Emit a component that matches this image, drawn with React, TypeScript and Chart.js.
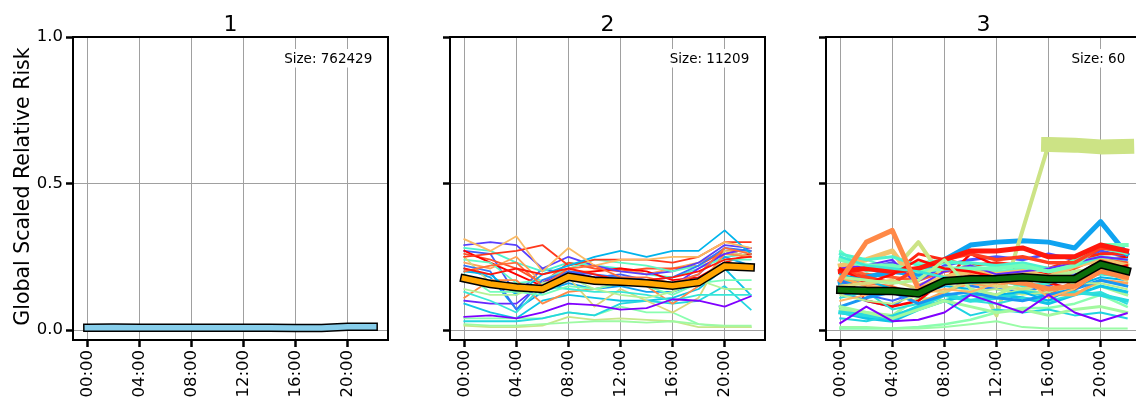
import React, { useEffect, useRef } from "react";
import { Chart, registerables } from "chart.js";

Chart.register(...registerables);

// ---------- data ----------
const HOURS = [0, 2, 4, 6, 8, 10, 12, 14, 16, 18, 20, 22];
const X_TICKS = [0, 4, 8, 12, 16, 20];
const X_TICK_LABELS = ["00:00", "04:00", "08:00", "12:00", "16:00", "20:00"];
const Y_TICKS = [0, 0.5, 1.0];
const Y_TICK_LABELS = ["0.0", "0.5", "1.0"];
const PANEL_TITLES = ["1", "2", "3"];
const PANEL_SIZES = ["Size: 762429", "Size: 11209", "Size: 60"];
const Y_LABEL = "Global Scaled Relative Risk";

const C1_MEAN = [0.008, 0.009, 0.008, 0.008, 0.008, 0.008, 0.008, 0.008, 0.007, 0.007, 0.011, 0.011];
const C2_MEAN = [0.176, 0.157, 0.146, 0.14, 0.182, 0.168, 0.165, 0.16, 0.151, 0.163, 0.218, 0.214];
const C3_MEAN = [0.137, 0.134, 0.133, 0.125, 0.167, 0.173, 0.174, 0.18, 0.174, 0.174, 0.224, 0.202];

const C2_MEMBERS: number[][] = [
  [0.045, 0.05, 0.04, 0.06, 0.09, 0.085, 0.07, 0.075, 0.105, 0.1, 0.08, 0.115],
  [0.29, 0.3, 0.29, 0.21, 0.25, 0.22, 0.2, 0.19, 0.2, 0.23, 0.29, 0.28],
  [0.22, 0.2, 0.07, 0.17, 0.2, 0.19, 0.18, 0.17, 0.18, 0.22, 0.28, 0.27],
  [0.27, 0.26, 0.12, 0.21, 0.19, 0.18, 0.19, 0.17, 0.16, 0.19, 0.27, 0.25],
  [0.21, 0.18, 0.07, 0.13, 0.16, 0.14, 0.15, 0.13, 0.13, 0.16, 0.25, 0.22],
  [0.2, 0.19, 0.12, 0.19, 0.22, 0.25, 0.27, 0.25, 0.27, 0.27, 0.34, 0.26],
  [0.09, 0.06, 0.04, 0.1, 0.12, 0.11, 0.1, 0.1, 0.11, 0.14, 0.21, 0.12],
  [0.03, 0.03, 0.03, 0.04, 0.06, 0.05, 0.09, 0.1, 0.09, 0.1, 0.15, 0.07],
  [0.13, 0.1, 0.06, 0.15, 0.14, 0.13, 0.13, 0.12, 0.1, 0.12, 0.12, 0.12],
  [0.28, 0.27, 0.23, 0.2, 0.23, 0.22, 0.21, 0.19, 0.18, 0.21, 0.25, 0.26],
  [0.24, 0.23, 0.16, 0.17, 0.21, 0.24, 0.23, 0.22, 0.2, 0.22, 0.24, 0.24],
  [0.19, 0.13, 0.13, 0.12, 0.15, 0.14, 0.16, 0.15, 0.12, 0.16, 0.17, 0.17],
  [0.04, 0.04, 0.04, 0.04, 0.06, 0.05, 0.08, 0.06, 0.06, 0.02, 0.01, 0.01],
  [0.02, 0.015, 0.015, 0.02, 0.025, 0.03, 0.03, 0.025, 0.03, 0.02, 0.015, 0.015],
  [0.14, 0.12, 0.12, 0.16, 0.18, 0.14, 0.12, 0.11, 0.13, 0.17, 0.14, 0.14],
  [0.015, 0.01, 0.01, 0.015, 0.045, 0.035, 0.04, 0.035, 0.03, 0.01, 0.01, 0.01],
  [0.25, 0.16, 0.15, 0.13, 0.18, 0.08, 0.14, 0.1, 0.06, 0.11, 0.27, 0.25],
  [0.31, 0.27, 0.32, 0.2, 0.28, 0.22, 0.24, 0.24, 0.25, 0.25, 0.3, 0.28],
  [0.23, 0.21, 0.25, 0.16, 0.2, 0.2, 0.21, 0.19, 0.21, 0.23, 0.27, 0.27],
  [0.11, 0.17, 0.17, 0.09, 0.13, 0.14, 0.16, 0.15, 0.09, 0.15, 0.26, 0.25],
  [0.2, 0.22, 0.23, 0.15, 0.21, 0.22, 0.18, 0.18, 0.16, 0.19, 0.28, 0.26],
  [0.26, 0.24, 0.21, 0.16, 0.23, 0.21, 0.2, 0.21, 0.21, 0.22, 0.27, 0.25],
  [0.25, 0.26, 0.27, 0.29, 0.22, 0.24, 0.24, 0.24, 0.23, 0.25, 0.3, 0.3],
  [0.21, 0.19, 0.21, 0.19, 0.21, 0.19, 0.17, 0.17, 0.18, 0.2, 0.24, 0.25],
  [0.27, 0.23, 0.19, 0.15, 0.19, 0.2, 0.21, 0.2, 0.17, 0.18, 0.23, 0.26],
  [0.1, 0.09, 0.09, 0.16, 0.2, 0.18, 0.17, 0.16, 0.15, 0.21, 0.26, 0.28],
];
const C2_MEMBER_HUES = [
  0.0, 0.08, 0.15, 0.12, 0.22, 0.25, 0.28, 0.32, 0.36, 0.4, 0.44, 0.48, 0.52,
  0.56, 0.6, 0.64, 0.68, 0.74, 0.78, 0.82, 0.86, 0.9, 0.93, 0.97, 1.0, 0.05,
];

const C3_MEMBERS: (number | null)[][] = [
  [0.024, 0.08, 0.03, 0.035, 0.06, 0.12, 0.09, 0.06, 0.12, 0.06, 0.03, 0.057],
  [0.21, 0.22, 0.24, 0.15, 0.2, 0.22, 0.19, 0.2, 0.21, 0.23, 0.25, 0.24],
  [0.2, 0.21, 0.23, 0.17, 0.22, 0.24, 0.25, 0.24, 0.26, 0.24, 0.27, 0.25],
  [0.17, 0.12, 0.1, 0.13, 0.16, 0.17, 0.18, 0.16, 0.15, 0.19, 0.23, 0.21],
  [0.13, 0.1, 0.08, 0.14, 0.17, 0.15, 0.14, 0.13, 0.15, 0.2, 0.21, 0.19],
  [0.08, 0.11, 0.13, 0.09, 0.12, 0.13, 0.11, 0.1, 0.12, 0.14, 0.17, 0.15],
  [0.16, 0.18, 0.2, 0.19, 0.24, 0.29, 0.3, 0.305, 0.3, 0.28, 0.37, 0.26],
  [0.19, 0.17, 0.14, 0.12, 0.15, 0.14, 0.12, 0.13, 0.1, 0.15, 0.18, 0.17],
  [0.06, 0.04, 0.03, 0.07, 0.1, 0.12, 0.12, 0.11, 0.09, 0.12, 0.15, 0.13],
  [0.04, 0.03, 0.05, 0.08, 0.1, 0.05, 0.07, 0.06, 0.07, 0.05, 0.06, 0.04],
  [0.11, 0.13, 0.07, 0.09, 0.13, 0.1, 0.09, 0.11, 0.1, 0.12, 0.13, 0.09],
  [0.25, 0.22, 0.21, 0.2, 0.18, 0.16, 0.17, 0.15, 0.16, 0.18, 0.19, 0.18],
  [0.26, 0.24, 0.25, 0.22, 0.23, 0.23, 0.22, 0.23, 0.21, 0.22, 0.25, 0.24],
  [0.22, 0.24, 0.21, 0.18, 0.21, 0.2, 0.22, 0.21, 0.2, 0.22, 0.26, 0.27],
  [0.24, 0.22, 0.22, 0.2, 0.21, 0.21, 0.21, 0.22, 0.2, 0.22, 0.29, 0.29],
  [0.005, 0.005, 0.005, 0.01, 0.02, 0.035, 0.06, 0.075, 0.075, 0.09, 0.12, 0.08],
  [0.01, 0.01, 0.005, 0.005, 0.01, 0.02, 0.03, 0.01, 0.005, 0.005, 0.005, 0.005],
  [0.07, 0.06, 0.05, 0.11, 0.1, 0.12, 0.11, 0.14, 0.12, 0.16, 0.15, 0.12],
  [0.12, 0.1, 0.09, 0.12, 0.16, 0.13, 0.14, 0.12, 0.13, 0.16, 0.16, 0.14],
  [0.2, 0.22, 0.2, 0.3, 0.17, 0.22, 0.05, 0.34, 0.633, null, null, null],
  [0.15, 0.16, 0.17, 0.14, 0.13, 0.17, 0.15, 0.14, 0.16, 0.2, 0.21, 0.19],
  [0.22, 0.24, 0.27, 0.15, 0.18, 0.2, 0.19, 0.2, 0.18, 0.22, 0.24, 0.22],
  [0.1, 0.12, 0.14, 0.12, 0.14, 0.13, 0.16, 0.18, 0.11, 0.14, 0.2, 0.17],
  [0.18, 0.15, 0.14, 0.09, 0.13, 0.16, 0.15, 0.18, 0.12, 0.12, 0.17, 0.16],
  [0.17, 0.3, 0.34, 0.14, 0.16, 0.18, 0.17, 0.16, 0.14, 0.15, 0.2, 0.18],
  [0.19, 0.16, 0.15, 0.12, 0.16, 0.19, 0.17, 0.18, 0.12, 0.17, 0.24, 0.21],
  [0.21, 0.19, 0.18, 0.17, 0.2, 0.21, 0.2, 0.19, 0.19, 0.21, 0.25, 0.23],
  [0.2, 0.18, 0.16, 0.21, 0.24, 0.26, 0.24, 0.25, 0.23, 0.23, 0.28, 0.27],
  [0.22, 0.21, 0.19, 0.26, 0.24, 0.22, 0.23, 0.22, 0.21, 0.24, 0.26, 0.26],
  [0.2, 0.21, 0.2, 0.21, 0.24, 0.27, 0.27, 0.28, 0.25, 0.25, 0.29, 0.27],
  [0.2, 0.1, 0.08, 0.1, 0.17, 0.26, 0.22, 0.2, 0.19, 0.18, 0.24, 0.25],
  [0.21, 0.16, 0.19, 0.24, 0.21, 0.2, 0.18, 0.18, 0.16, 0.14, 0.2, 0.22],
  [0.27, 0.2, 0.22, 0.23, 0.24, 0.22, 0.2, 0.21, 0.2, 0.24, 0.28, 0.26],
  [0.18, 0.17, 0.16, 0.17, 0.24, 0.14, 0.12, 0.16, 0.18, 0.2, 0.21, 0.17],
  [0.06, 0.05, 0.04, 0.08, 0.12, 0.1, 0.11, 0.13, 0.12, 0.13, 0.12, 0.1],
  [0.08, 0.06, 0.04, 0.07, 0.1, 0.08, 0.06, 0.07, 0.05, 0.07, 0.08, 0.06],
  [null, null, null, null, null, null, null, null, 0.633, 0.631, 0.625, 0.627],
];
const C3_MEMBER_HUES = [
  0.0, 0.05, 0.1, 0.13, 0.17, 0.2, 0.22, 0.25, 0.28, 0.31, 0.34, 0.37, 0.4,
  0.44, 0.48, 0.52, 0.55, 0.58, 0.62, 0.65, 0.68, 0.72, 0.75, 0.78, 0.82,
  0.85, 0.88, 0.92, 0.95, 0.97, 1.0, 0.99, 0.45, 0.6, 0.33, 0.57, 0.65,
];

// ---------- styles ----------
const C3_MEMBER_WIDTHS = [
  2, 2, 3, 2, 2.5, 3, 5, 2, 3, 2, 2, 2.5, 3, 2, 4, 2.5, 2, 3, 2, 4, 3, 5, 2, 3,
  5, 2, 3, 3.5, 3, 5, 2.5, 2.5, 2.5, 3, 4, 3, 15,
];
const FONT = '"DejaVu Sans", "Liberation Sans", sans-serif';
const GRID_COLOR = "#a0a0a0";

function rainbow(t: number): string {
  const c = (v: number) => Math.round(Math.max(0, Math.min(1, v)) * 255);
  const r = Math.abs(2 * t - 0.5);
  const g = Math.sin(Math.PI * t);
  const b = Math.cos((Math.PI * t) / 2);
  return `rgb(${c(r)},${c(g)},${c(b)})`;
}

const toPoints = (vals: (number | null)[]) =>
  HOURS.map((h, i) => ({ x: h, y: vals[i] }));

type PanelCfg = {
  idx: number;
  canvasLeft: number;
  canvasWidth: number;
  yAxisWidth: number;
  padRight: number;
  showYLabels: boolean;
  mean: number[];
  meanColor: string;
  members: (number | null)[][];
  hues: number[];
  widths: number[];
};

const PANELS: PanelCfg[] = [
  {
    idx: 0, canvasLeft: 0, canvasWidth: 400, yAxisWidth: 73, padRight: 12,
    showYLabels: true, mean: C1_MEAN, meanColor: "#87ceeb",
    members: [], hues: [], widths: [],
  },
  {
    idx: 1, canvasLeft: 400, canvasWidth: 400, yAxisWidth: 50, padRight: 35,
    showYLabels: false, mean: C2_MEAN, meanColor: "#ffa500",
    members: C2_MEMBERS, hues: C2_MEMBER_HUES, widths: C2_MEMBERS.map(() => 1.8),
  },
  {
    idx: 2, canvasLeft: 800, canvasWidth: 345, yAxisWidth: 26, padRight: 4,
    showYLabels: false, mean: C3_MEAN, meanColor: "#0a6e0a",
    members: C3_MEMBERS, hues: C3_MEMBER_HUES, widths: C3_MEMBER_WIDTHS,
  },
];

function Panel({ cfg }: { cfg: PanelCfg }) {
  const ref = useRef<HTMLCanvasElement | null>(null);
  useEffect(() => {
    if (!ref.current) return;
    const n = cfg.members.length;
    const datasets: any[] = [
      {
        data: toPoints(cfg.mean), borderColor: cfg.meanColor, borderWidth: 5.5,
        borderCapStyle: "square", borderJoinStyle: "miter", order: 0,
      },
      {
        data: toPoints(cfg.mean), borderColor: "#000", borderWidth: 8.5,
        borderCapStyle: "square", borderJoinStyle: "miter", order: 1,
      },
    ];
    cfg.members.forEach((m, i) => {
      datasets.push({
        data: toPoints(m), borderColor: rainbow(cfg.hues[i]), borderWidth: cfg.widths[i],
        borderCapStyle: "square", borderJoinStyle: "round",
        order: 2 + ((i * 17) % Math.max(n, 1)),
      });
    });

    const deco = {
      id: "deco",
      afterDraw(chart: any) {
        const { ctx, chartArea: a } = chart;
        ctx.save();
        ctx.strokeStyle = "#000";
        ctx.lineWidth = 2;
        ctx.strokeRect(a.left, a.top, a.right - a.left, a.bottom - a.top);

        const sizeText = PANEL_SIZES[cfg.idx];
        ctx.font = `13.5px ${FONT}`;
        const tw = ctx.measureText(sizeText).width;
        const xr = a.right - 0.05 * (a.right - a.left);
        ctx.fillStyle = "#fff";
        ctx.fillRect(xr - tw - 3, 49, tw + 6, 18.5);
        ctx.fillStyle = "#000";
        ctx.textAlign = "right";
        ctx.textBaseline = "alphabetic";
        ctx.fillText(sizeText, xr, 63);

        ctx.font = `22px ${FONT}`;
        ctx.textAlign = "center";
        ctx.fillText(PANEL_TITLES[cfg.idx], (a.left + a.right) / 2, 31);

        if (cfg.showYLabels) {
          ctx.translate(28.5, (a.top + a.bottom) / 2 - 2);
          ctx.rotate(-Math.PI / 2);
          ctx.font = `20.5px ${FONT}`;
          ctx.textAlign = "center";
          ctx.fillText(Y_LABEL, 0, 0);
        }
        ctx.restore();
      },
    };

    const gridOpts = {
      color: GRID_COLOR, lineWidth: 1, tickColor: "#000", tickWidth: 2.5,
      tickLength: 7, drawTicks: true,
    };

    const chart = new Chart(ref.current, {
      type: "line",
      data: { datasets },
      plugins: [deco],
      options: {
        animation: false,
        responsive: false,
        events: [],
        layout: { padding: { top: 37, left: 0, right: cfg.padRight, bottom: 0 } },
        elements: { point: { radius: 0 }, line: { tension: 0, fill: false } },
        plugins: { legend: { display: false }, tooltip: { enabled: false }, title: { display: false } },
        scales: {
          x: {
            type: "linear", min: -1.1, max: 23.1,
            afterBuildTicks: (s: any) => { s.ticks = X_TICKS.map((v) => ({ value: v })); },
            afterFit: (s: any) => { s.height = 65; },
            ticks: {
              autoSkip: false, minRotation: 90, maxRotation: 90, padding: 3, color: "#000",
              font: { size: 16.5, family: FONT },
              callback: (v: any) => X_TICK_LABELS[X_TICKS.indexOf(Number(v))] ?? "",
            },
            grid: gridOpts,
            border: { display: false },
          },
          y: {
            type: "linear", min: -0.034, max: 1.0,
            afterBuildTicks: (s: any) => { s.ticks = Y_TICKS.map((v) => ({ value: v })); },
            afterFit: (s: any) => { s.width = cfg.yAxisWidth; },
            ticks: {
              display: cfg.showYLabels, padding: 3, color: "#000",
              font: { size: 16.5, family: FONT },
              callback: (v: any) => Y_TICK_LABELS[Y_TICKS.indexOf(Number(v))] ?? "",
            },
            grid: gridOpts,
            border: { display: false },
          },
        },
      } as any,
    });
    return () => chart.destroy();
  }, [cfg]);

  return (
    <canvas
      ref={ref}
      width={cfg.canvasWidth}
      height={405}
      style={{ position: "absolute", left: cfg.canvasLeft, top: 0, width: cfg.canvasWidth, height: 405 }}
    />
  );
}

export default function App() {
  return (
    <div
      style={{
        position: "fixed", left: 0, top: 0, width: 1136, height: 405,
        overflow: "hidden", background: "#fff",
      }}
    >
      {PANELS.map((p) => (
        <Panel key={p.idx} cfg={p} />
      ))}
    </div>
  );
}
